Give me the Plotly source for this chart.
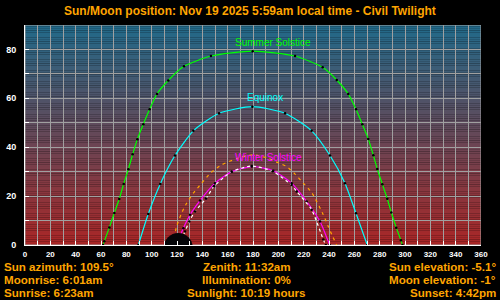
import plotly.graph_objects as go

# ---- data ----
summer_x = [61.6, 62.6, 66.6, 70.5, 74.4, 77.9, 81.6, 85.0, 88.7, 93.4, 98.4, 104.2, 113.1, 125.5, 146.8,
            179.8, 213.2, 235.0, 246.1, 255.2, 261.3, 266.3, 271.0, 275.0, 278.1, 282.1, 286.0, 289.2,
            293.1, 296.8, 298.0]
summer_y = [0, 1.5, 7.2, 13.1, 18.8, 25.0, 31.0, 37.1, 43.3, 49.4, 55.5, 61.8, 67.3, 73.1, 77.3,
            79.3, 77.3, 72.7, 67.5, 61.8, 55.5, 49.4, 43.4, 36.7, 31.1, 24.9, 18.9, 13.3,
            7.1, 1.9, 0]

equinox_x = [89.5, 97.3, 106.8, 118.4, 132.9, 153.2, 179.5, 205.3, 226.3, 240.8, 252.6, 261.3, 270.2]
equinox_y = [0, 12.7, 25.0, 36.6, 46.7, 53.9, 56.6, 53.9, 46.7, 36.6, 25.3, 13.0, 0]

winter_x = [119.5, 125.0, 130.3, 138.2, 150.0, 163.2, 179.0, 196.0, 210.5, 222.4, 232.9, 240.5]
winter_y = [0, 6.9, 12.4, 18.2, 25.3, 30.0, 32.1, 30.4, 25.3, 17.8, 9.6, 0]

sun_x = [121.5, 126.3, 129.7, 134.2, 142.9, 149.2, 163.2, 179.0, 195.5, 210.5, 214.5, 226.3, 235.5, 237.5]
sun_y = [0, 5.5, 9.6, 13.7, 19.0, 24.0, 30.0, 32.3, 30.2, 24.5, 21.9, 14.4, 2.2, 0]

moon_x = [116.5, 119.7, 123.7, 127.6, 132.9, 139.5, 146.8, 155.3, 168.0, 180.2, 192.0, 198.7, 206.6,
          213.2, 219.7, 226.3, 235.5, 239.4, 242.9, 246.0]
moon_y = [0, 7.6, 13.1, 17.1, 21.2, 25.3, 29.6, 32.8, 35.5, 36.9, 35.5, 33.9, 32.1,
          29.0, 25.3, 21.5, 12.4, 7.6, 3.5, 0]

moon_now_az = [121.0]
moon_now_el = [-1.0]

title_text = "Sun/Moon position: Nov 19 2025 5:59am local time - Civil Twilight"
info_left = ["Sun azimuth: 109.5°", "Moonrise: 6:01am", "Sunrise: 6:23am"]
info_mid = ["Zenith: 11:32am", "Illumination: 0%", "Sunlight: 10:19 hours"]
info_right = ["Sun elevation: -5.1°", "Moon elevation: -1°", "Sunset: 4:42pm"]

curve_labels = ["Summer Solstice", "Equinox", "Winter Solstice"]
label_x = [165, 174.5, 165]
label_y = [82.7, 60.2, 35.9]
label_colors = ["#00ff00", "#00ffff", "#ff00ff"]

# ---- geometry of the plot area (pixels) ----
W, H = 500, 300
L, R, T, B = 25, 19, 25, 55
PW, PH = W - L - R, H - T - B


def px_x(px):
    return (px - L) / PW


def px_y(py):
    return (H - B - py) / PH


fig = go.Figure()

# gradient background (below grid)
top_rgb = (33, 106, 138)
bot_rgb = (170, 38, 38)
n = 120
shapes = []
for i in range(n):
    t = (i + 0.5) / n
    c = tuple(int(round(bot_rgb[k] + (top_rgb[k] - bot_rgb[k]) * t)) for k in range(3))
    shapes.append(dict(type="rect", xref="x", yref="y", x0=0, x1=360,
                       y0=90 * i / n, y1=90 * (i + 1) / n + 0.02,
                       fillcolor="rgb(%d,%d,%d)" % c, line=dict(width=0), layer="below"))
shapes.append(dict(type="rect", xref="x", yref="y", x0=0, x1=360, y0=0, y1=90,
                   line=dict(color="#a0a0a0", width=1), layer="below", fillcolor="rgba(0,0,0,0)"))


def curve(x, y, color, dash="solid", marker=True):
    fig.add_trace(go.Scatter(
        x=x, y=y, mode="lines+markers" if marker else "lines",
        line=dict(color=color, width=1.2, dash=dash, shape="spline", smoothing=0.6),
        marker=dict(color="black", size=2.5),
        hoverinfo="skip", showlegend=False, cliponaxis=True))


curve(summer_x, summer_y, "#00ff00")
curve(equinox_x, equinox_y, "#00ffff")
curve(winter_x, winter_y, "#ff00ff")
curve(moon_x, moon_y, "#ffa500", dash="3px,4px", marker=False)
curve(sun_x, sun_y, "#ffffff", dash="3px,3px")

fig.add_trace(go.Scatter(x=moon_now_az, y=moon_now_el, mode="markers",
                         marker=dict(color="#050508", size=29, line=dict(width=0)),
                         hoverinfo="skip", showlegend=False, cliponaxis=True))

FONT = "Liberation Sans, Arial"
ORANGE = "#ffa500"
annotations = []
for txt, lx, ly, col in zip(curve_labels, label_x, label_y, label_colors):
    annotations.append(dict(x=lx, y=ly, xref="x", yref="y", text=txt, showarrow=False,
                            xanchor="left", yanchor="middle", borderpad=0,
                            font=dict(family=FONT, size=10, color=col)))

annotations.append(dict(x=px_x(250), y=px_y(11), xref="paper", yref="paper",
                        text="<b>%s</b>" % title_text, showarrow=False,
                        xanchor="center", yanchor="middle", borderpad=0,
                        font=dict(family=FONT, size=12, color=ORANGE)))
row_y = [266.6, 279.4, 292.2]
for i in range(3):
    yy = px_y(row_y[i])
    for txt, xp, anc in ((info_left[i], 3, "left"), (info_mid[i], 246.5, "center"),
                         (info_right[i], 497.5, "right")):
        annotations.append(dict(x=px_x(xp), y=yy, xref="paper", yref="paper", text="<b>%s</b>" % txt,
                                showarrow=False, xanchor=anc, yanchor="middle", borderpad=0,
                                font=dict(family=FONT, size=11.6, color=ORANGE)))

axis_common = dict(showgrid=True, gridcolor="#a0a0a0", gridwidth=1,
                   zeroline=False, showline=True, linecolor="white", linewidth=1,
                   ticks="inside", ticklen=4, tickcolor="white", tickwidth=1,
                   minor=dict(dtick=10, showgrid=True, gridcolor="#a0a0a0", gridwidth=1,
                              ticks="inside", ticklen=4, tickcolor="white"),
                   automargin=False, fixedrange=True)

fig.update_layout(
    width=W, height=H,
    margin=dict(l=L, r=R, t=T, b=B, pad=0, autoexpand=False),
    paper_bgcolor="black", plot_bgcolor="black",
    shapes=shapes, annotations=annotations,
    xaxis=dict(range=[0, 360], dtick=20, tick0=0,
               tickfont=dict(family=FONT, size=8, color="white", weight="bold"),
               ticklabelstandoff=1, **axis_common),
    yaxis=dict(range=[0, 90], dtick=20, tick0=0,
               tickfont=dict(family=FONT, size=9, color="white", weight="bold"),
               ticklabelstandoff=6, **axis_common),
)

fig.write_html("out.html")
